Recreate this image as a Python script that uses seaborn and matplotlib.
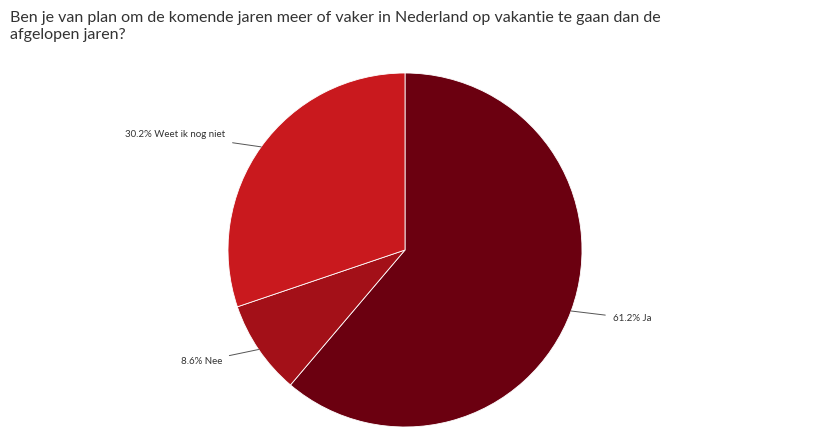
import numpy as np
import matplotlib
matplotlib.use("Agg")
import matplotlib.pyplot as plt
import seaborn as sns

sns.set_theme(style="white")
plt.rcParams['font.family'] = ['Lato', 'DejaVu Sans']

labels = ["Ja", "Nee", "Weet ik nog niet"]
values = [61.2, 8.6, 30.2]
colors = ["#6b0010", "#a31018", "#c9191e"]
title = ("Ben je van plan om de komende jaren meer of vaker in Nederland op vakantie te gaan dan de\n"
         "afgelopen jaren?")

fig = plt.figure(figsize=(8.27, 4.33), dpi=100)
fig.text(0.012, 0.975, title, ha="left", va="top", fontsize=11.5, color="#333333", linespacing=1.25)

ax = fig.add_axes([228 / 827, 6 / 433, 354 / 827, 354 / 433])
wedges, _ = ax.pie(values, colors=colors, startangle=90, counterclock=False,
                   radius=1, wedgeprops=dict(edgecolor="white", linewidth=0.6))
ax.set_xlim(-1, 1)
ax.set_ylim(-1, 1)
ax.set_aspect("equal")

for w, lab, v in zip(wedges, labels, values):
    ang = np.deg2rad((w.theta1 + w.theta2) / 2)
    x, y = np.cos(ang), np.sin(ang)
    tx, ty = 1.25 * x, 1.12 * y
    ax.annotate(f"{v}% {lab}", xy=(x, y), xytext=(tx, ty),
                ha="left" if x > 0 else "right", va="center",
                fontsize=7, color="#333333", annotation_clip=False,
                arrowprops=dict(arrowstyle="-", color="#555555", lw=0.7,
                                shrinkA=3, shrinkB=0))

fig.savefig("out.png", dpi=100)
